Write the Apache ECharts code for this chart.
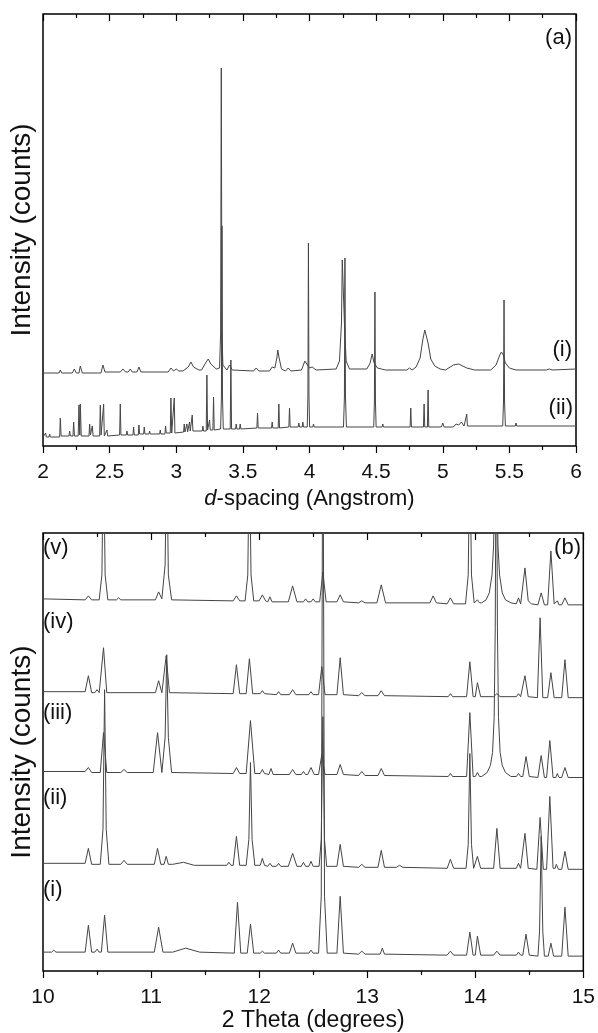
<!DOCTYPE html>
<html><head><meta charset="utf-8">
<script src="https://cdn.jsdelivr.net/npm/echarts@6/dist/echarts.min.js"></script>
<style>html,body{margin:0;padding:0;background:#fff}#c{width:598px;height:1033px}</style>
</head><body><div id="c"></div>
<script>
// ---- tick labels ----
const dTicks = [2, 2.5, 3, 3.5, 4, 4.5, 5, 5.5, 6];
const thetaTicks = [10, 11, 12, 13, 14, 15];
const seriesNamesA = ['(i)', '(ii)'];
const seriesNamesB = ['(i)', '(ii)', '(iii)', '(iv)', '(v)'];

// ---- panel (a): d-spacing (Angstrom), intensity above own baseline ----
const aI = [[2.0,0],[2.12,0],[2.13,3],[2.14,0],[2.22,0],[2.235,4],[2.25,0],[2.27,0],[2.28,7],[2.295,0],[2.39,0],[2.4,2],[2.41,0],
[2.435,0],[2.45,8],[2.465,1],[2.58,1],[2.6,4],[2.62,1],[2.64,1],[2.655,4],[2.67,1],[2.705,1],[2.72,6],[2.735,1],
[2.94,1],[2.96,5],[2.98,2],[3.0,4],[3.02,2],[3.05,2],[3.09,6],[3.11,11],[3.13,6],[3.17,3],[3.19,3],[3.22,10],[3.24,14],[3.26,9],[3.3,4],
[3.325,5],[3.333,40],[3.338,305],[3.343,40],[3.35,8],[3.38,3],[3.40,8],[3.42,3],[3.58,2],[3.6,5],[3.62,2],[3.7,2],[3.72,6],[3.735,4],
[3.74,5],[3.755,15],[3.762,23],[3.772,15],[3.79,4],[3.82,2],[3.84,5],[3.86,2],[3.94,3],[3.965,12],[3.975,10],[4.0,5],[4.02,6],[4.05,3],
[4.2,4],[4.225,12],[4.24,50],[4.246,113],[4.256,113],[4.262,50],[4.275,12],[4.3,4],[4.43,4],[4.455,10],[4.47,19],[4.485,10],[4.51,5],
[4.54,4],[4.55,6],[4.57,3],[4.73,3],[4.75,5],[4.77,3],[4.8,6],[4.83,15],[4.85,33],[4.865,43],[4.875,42],[4.89,30],[4.91,14],[4.94,7],[4.98,4],
[5.02,3],[5.08,8],[5.12,9],[5.18,5],[5.24,3],[5.36,3],[5.4,8],[5.425,17],[5.44,21],[5.455,18],[5.47,10],[5.5,5],[5.55,3],
[5.78,3],[5.8,4],[5.82,3],[6.0,4]];
const aII = [[2.0,0],[2.015,0],[2.02,4],[2.025,0],[2.045,0],[2.05,3],[2.055,0],[2.125,0],[2.13,19],[2.136,1],[2.195,1],[2.2,6],[2.205,1],
[2.225,1],[2.23,15],[2.236,1],[2.264,1],[2.27,32],[2.276,2],[2.28,33],[2.287,1],[2.345,1],[2.35,13],[2.356,2],[2.37,11],[2.376,1],
[2.425,1],[2.43,32],[2.436,2],[2.45,2],[2.455,33],[2.46,1],[2.475,1],[2.48,7],[2.485,1],[2.575,2],[2.58,33],[2.585,2],
[2.625,2],[2.63,6],[2.635,2],[2.675,2],[2.68,10],[2.685,2],[2.715,2],[2.72,12],[2.725,3],[2.755,3],[2.76,10],[2.765,3],[2.795,3],[2.8,6],[2.805,3],
[2.875,3],[2.88,7],[2.885,3],[2.915,3],[2.92,11],[2.925,4],[2.955,4],[2.96,39],[2.966,4],[2.98,4],[2.985,39],[2.99,4],
[3.055,5],[3.06,13],[3.065,5],[3.075,5],[3.08,13],[3.085,5],[3.095,5],[3.1,15],[3.105,6],[3.115,6],[3.12,22],[3.125,6],
[3.195,6],[3.2,11],[3.205,6],[3.225,6],[3.23,62],[3.235,7],[3.25,17],[3.255,7],[3.275,7],[3.28,40],[3.285,7],
[3.333,8],[3.339,40],[3.343,211],[3.347,40],[3.353,8],[3.405,8],[3.41,77],[3.415,8],[3.445,8],[3.45,13],[3.455,8],[3.475,8],[3.48,13],[3.485,8],
[3.605,9],[3.61,24],[3.615,9],[3.715,9],[3.72,15],[3.725,9],[3.765,9],[3.77,33],[3.775,9],[3.845,10],[3.85,29],[3.855,10],
[3.915,10],[3.92,14],[3.925,10],[3.945,10],[3.95,15],[3.955,10],[3.983,10],[3.988,40],[3.992,194],[3.996,40],[4.001,10],[4.025,10],[4.03,13],[4.035,10],
[4.255,10],[4.262,40],[4.266,179],[4.27,40],[4.277,10],[4.482,10],[4.487,35],[4.491,145],[4.495,35],[4.5,10],[4.545,10],[4.55,13],[4.555,10],
[4.755,10],[4.76,29],[4.765,10],[4.855,10],[4.86,33],[4.865,10],[4.885,10],[4.89,47],[4.895,10],[4.99,10],[5.0,14],[5.01,10],
[5.08,10],[5.1,13],[5.12,12],[5.14,15],[5.16,11],[5.175,11],[5.18,23],[5.185,11],[5.45,11],[5.456,35],[5.46,137],[5.464,35],[5.47,11],
[5.545,11],[5.55,14],[5.555,11],[5.745,11],[5.75,13],[5.755,11],[6.0,11]];

// ---- panel (b): 2 Theta (degrees), intensity above own baseline ----
const bI = [[10,4],[10.08,4],[10.1,6],[10.12,4],[10.39,4],[10.42,31],[10.45,4],[10.48,4],[10.5,7],[10.52,4],[10.54,4],[10.57,41],[10.6,4],
[11.03,4],[11.07,29],[11.11,4],[11.2,4],[11.32,8],[11.45,4],[11.77,3],[11.8,54],[11.83,3],[11.89,3],[11.92,32],[11.95,3],
[12.01,3],[12.03,5],[12.05,3],[12.16,3],[12.18,6],[12.2,3],[12.28,3],[12.31,13],[12.34,3],[12.46,3],[12.48,6],[12.5,3],
[12.55,3],[12.575,60],[12.59,600],[12.605,60],[12.63,3],[12.72,3],[12.75,60],[12.78,3],[12.92,2],[12.95,5],[12.98,2],[13.12,2],[13.14,8],[13.16,2],
[13.74,1],[13.77,5],[13.8,1],[13.92,1],[13.95,24],[13.98,1],[14.0,1],[14.02,20],[14.05,1],[14.17,1],[14.2,5],[14.23,1],[14.38,1],[14.4,4],[14.42,1],
[14.44,1],[14.47,22],[14.5,1],[14.58,0],[14.595,25],[14.61,120],[14.625,25],[14.64,0],[14.675,0],[14.7,13],[14.725,0],[14.8,0],[14.83,49],[14.86,0],[15,0]];
const bII = [[10,6],[10.39,6],[10.42,21],[10.45,5],[10.53,5],[10.555,40],[10.57,180],[10.585,40],[10.61,5],[10.72,5],[10.75,9],[10.78,5],
[11.03,5],[11.06,21],[11.09,5],[11.12,5],[11.14,13],[11.16,5],[11.2,5],[11.3,7],[11.4,4],[11.7,4],[11.72,7],[11.74,4],[11.76,4],[11.79,33],[11.82,4],
[11.88,4],[11.905,30],[11.92,107],[11.935,30],[11.96,4],[12.01,4],[12.03,11],[12.05,4],[12.08,3],[12.1,6],[12.12,3],[12.16,3],[12.18,6],[12.2,3],
[12.27,3],[12.31,16],[12.35,3],[12.39,3],[12.41,7],[12.43,3],[12.46,3],[12.48,8],[12.5,3],[12.555,3],[12.575,30],[12.59,153],[12.605,30],[12.625,3],
[12.72,3],[12.75,25],[12.78,3],[12.92,2],[12.95,5],[12.98,2],[13.1,2],[13.13,19],[13.16,2],[13.27,2],[13.3,4],[13.33,2],
[13.74,1],[13.77,10],[13.8,1],[13.915,1],[13.935,25],[13.95,116],[13.965,25],[13.985,1],[14.0,1],[14.02,13],[14.05,1],[14.17,1],[14.2,41],[14.23,1],
[14.38,1],[14.4,6],[14.42,1],[14.43,1],[14.46,36],[14.49,1],[14.57,0],[14.6,52],[14.63,0],[14.66,0],[14.69,73],[14.72,1],[14.74,1],[14.75,5],[14.77,0],
[14.8,0],[14.83,18],[14.86,0],[15,0]];
const bIII = [[10,6],[10.39,6],[10.42,10],[10.45,5],[10.53,5],[10.56,45],[10.59,5],[10.72,5],[10.75,8],[10.78,5],[11.02,5],[11.06,45],[11.1,5],
[11.11,5],[11.13,40],[11.145,123],[11.16,40],[11.19,5],[11.76,4],[11.79,10],[11.82,4],[11.88,4],[11.92,57],[11.96,4],[12.01,4],[12.03,8],[12.05,4],
[12.09,3],[12.11,9],[12.13,3],[12.28,3],[12.31,8],[12.34,3],[12.39,3],[12.41,6],[12.43,3],[12.45,3],[12.48,10],[12.51,3],[12.55,3],[12.58,23],[12.61,3],
[12.72,3],[12.75,13],[12.78,3],[12.92,2],[12.95,6],[12.98,2],[13.1,2],[13.13,9],[13.16,2],[13.75,1],[13.77,4],[13.79,1],[13.92,1],[13.95,65],[13.98,1],
[14.0,1],[14.02,5],[14.04,1],[14.06,1],[14.11,5],[14.14,12],[14.16,25],[14.175,60],[14.185,150],[14.195,400],[14.205,150],[14.215,60],[14.23,25],[14.25,12],[14.28,5],[14.33,1],
[14.38,1],[14.4,4],[14.42,1],[14.44,1],[14.47,21],[14.5,1],[14.58,0],[14.61,22],[14.64,0],[14.66,0],[14.69,37],[14.72,0],[14.745,0],[14.76,4],[14.775,0],
[14.8,0],[14.83,10],[14.86,0],[15,0]];
const bIV = [[10,6],[10.39,6],[10.42,22],[10.45,5],[10.48,5],[10.5,8],[10.52,5],[10.53,5],[10.56,50],[10.59,5],[11.04,5],[11.07,17],[11.1,5],
[11.11,5],[11.14,42],[11.17,5],[11.76,4],[11.79,33],[11.82,4],[11.88,4],[11.91,39],[11.94,4],[12.01,4],[12.03,7],[12.05,4],[12.16,3],[12.18,6],[12.2,3],
[12.28,3],[12.31,8],[12.34,3],[12.46,3],[12.48,6],[12.5,3],[12.55,3],[12.58,31],[12.61,3],[12.72,3],[12.75,40],[12.78,3],[12.92,2],[12.95,5],[12.98,2],
[13.1,2],[13.13,7],[13.16,2],[13.75,1],[13.77,4],[13.79,1],[13.92,1],[13.95,36],[13.98,1],[14.0,1],[14.02,15],[14.05,1],[14.17,1],[14.2,4],[14.23,1],
[14.38,1],[14.4,4],[14.42,1],[14.43,1],[14.46,22],[14.49,1],[14.575,0],[14.6,80],[14.625,0],[14.67,0],[14.7,25],[14.73,0],[14.8,0],[14.83,38],[14.86,0],[15,0]];
const bV = [[10,6],[10.39,5],[10.42,9],[10.45,5],[10.52,5],[10.545,30],[10.56,160],[10.575,30],[10.6,5],[10.68,5],[10.7,7],[10.72,5],
[11.04,5],[11.07,13],[11.1,6],[11.11,8],[11.13,40],[11.145,160],[11.16,30],[11.19,5],[11.76,4],[11.79,9],[11.82,4],
[11.87,4],[11.895,30],[11.91,160],[11.925,30],[11.95,4],[12.0,4],[12.03,10],[12.06,4],[12.08,3],[12.1,8],[12.12,3],[12.27,3],[12.31,19],[12.35,3],
[12.41,3],[12.43,6],[12.45,3],[12.48,3],[12.5,6],[12.52,3],[12.56,3],[12.59,33],[12.62,3],[12.72,3],[12.75,10],[12.78,3],[12.92,2],[12.95,4],[12.98,2],
[13.09,2],[13.13,20],[13.17,2],[13.58,2],[13.61,9],[13.64,2],[13.74,1],[13.77,7],[13.8,1],[13.91,1],[13.935,30],[13.95,160],[13.965,30],[13.99,2],
[14.0,2],[14.02,5],[14.04,2],[14.06,2],[14.1,5],[14.13,12],[14.155,30],[14.17,60],[14.19,250],[14.21,60],[14.225,30],[14.25,12],[14.28,5],[14.33,2],
[14.38,1],[14.4,7],[14.42,1],[14.43,1],[14.46,37],[14.49,4],[14.5,5],[14.52,1],[14.58,0],[14.61,12],[14.64,0],[14.67,0],[14.7,54],[14.73,1],
[14.745,0],[14.76,4],[14.775,0],[14.8,0],[14.83,7],[14.86,0],[15,0]];

// ---- layout (vertical stacking offsets, styles) ----
const offsetsA = [73, 9];
const offsetsB = [15, 102, 194, 274, 367];
const FONT = '"Liberation Sans", Arial, sans-serif';
const LINE = '#454545';

const chart = echarts.init(document.getElementById('c'), null, {renderer: 'canvas'});
const shift = (arr, off) => arr.map(p => [p[0], p[1] + off]);

function xAxisPair(gridIndex, ticks, name, nameGap, nameSize) {
  const min = ticks[0], max = ticks[ticks.length - 1], interval = ticks[1] - ticks[0];
  const common = {type: 'value', gridIndex, min, max, interval, splitLine: {show: false},
    axisLine: {show: false}, minorTick: {show: true, splitNumber: 2, length: 4, lineStyle: {color: '#000', width: 1.2}}};
  return [
    Object.assign({}, common, {position: 'bottom', name, nameLocation: 'middle', nameGap,
      nameTextStyle: {fontFamily: FONT, fontSize: nameSize, color: '#111', rich: {it: {fontFamily: FONT, fontSize: nameSize, fontStyle: 'italic', color: '#111'}}},
      axisTick: {show: true, inside: false, length: 7, lineStyle: {color: '#000', width: 1.2}},
      axisLabel: {show: true, margin: 16, fontFamily: FONT, fontSize: 21, color: '#111'}}),
    Object.assign({}, common, {position: 'top',
      axisTick: {show: true, inside: true, length: 7, lineStyle: {color: '#000', width: 1.2}},
      axisLabel: {show: false}})
  ];
}

const yCommon = {type: 'value', min: 0, axisLine: {show: false}, axisTick: {show: false}, axisLabel: {show: false}, splitLine: {show: false},
  name: 'Intensity (counts)', nameLocation: 'middle', nameGap: 7, nameRotate: 90,
  nameTextStyle: {fontFamily: FONT, fontSize: 28, color: '#111'}};

const series = [];
[aI, aII].forEach((d, i) => series.push({name: 'a' + seriesNamesA[i], type: 'line', xAxisIndex: 0, yAxisIndex: 0,
  data: shift(d, offsetsA[i]), showSymbol: false, clip: true, lineStyle: {color: LINE, width: 1}}));
[bI, bII, bIII, bIV, bV].forEach((d, i) => series.push({name: 'b' + seriesNamesB[i], type: 'line', xAxisIndex: 2, yAxisIndex: 1,
  data: shift(d, offsetsB[i]), showSymbol: false, clip: true, lineStyle: {color: LINE, width: 1}}));

const txt = (x, y, text, align) => ({type: 'text', x, y,
  style: {text, fontFamily: FONT, fontSize: 22, fill: '#111', textAlign: align || 'left', textVerticalAlign: 'middle'}});

chart.setOption({
  animation: false,
  backgroundColor: '#fff',
  grid: [
    {left: 40, top: 14, width: 536, height: 432, show: true, borderColor: '#000', borderWidth: 1.5, backgroundColor: 'transparent'},
    {left: 39, top: 533, width: 546, height: 439, show: true, borderColor: '#000', borderWidth: 1.5, backgroundColor: 'transparent'}
  ],
  xAxis: [
    ...xAxisPair(0, dTicks, '{it|d}-spacing (Angstrom)', 42, 22),
    ...xAxisPair(1, thetaTicks, '2 Theta (degrees)', 35, 23)
  ],
  yAxis: [
    Object.assign({}, yCommon, {gridIndex: 0, max: 432}),
    Object.assign({}, yCommon, {gridIndex: 1, max: 439})
  ],
  series,
  graphic: [
    txt(572, 38, '(a)', 'right'),
    txt(572, 350, seriesNamesA[0], 'right'),
    txt(573, 408, seriesNamesA[1], 'right'),
    txt(43, 548, seriesNamesB[4]),
    txt(43, 622, seriesNamesB[3]),
    txt(43, 713, seriesNamesB[2]),
    txt(43, 798, seriesNamesB[1]),
    txt(43, 890, seriesNamesB[0]),
    txt(581, 548, '(b)', 'right')
  ]
});
</script></body></html>
